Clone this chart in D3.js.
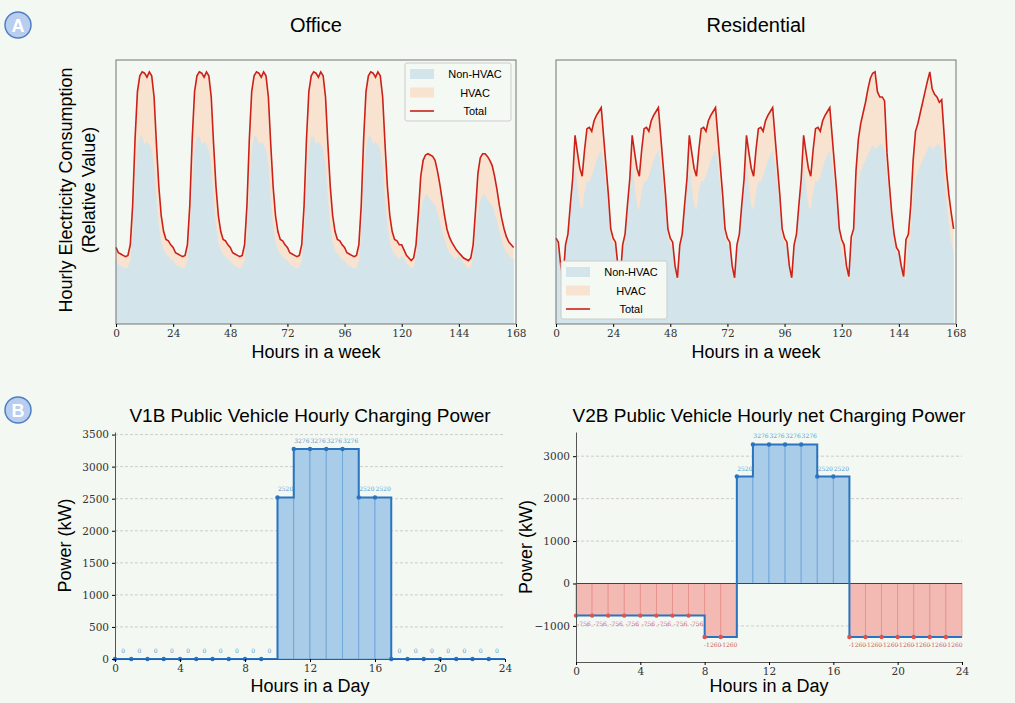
<!DOCTYPE html>
<html><head><meta charset="utf-8">
<script src="https://cdn.jsdelivr.net/npm/d3@7"></script>
<style>
body{margin:0;background:#f3f8f2;}
svg{font-family:"Liberation Sans",Arial,sans-serif;}
.tick text{font-family:"DejaVu Serif",serif;font-size:10.5px;fill:#333;}
</style></head><body>
<svg id="c" width="1015" height="703"></svg>
<script>
// ---- A: weekly profiles (relative, 0..100 of frame) ----
const officeWeekdayTotal = [29,27,26.5,26,25.5,26,30,45,70,88,94,95.5,95,93.5,95.5,94,86,68,52,41,35,32,31.5,30]
const officeWeekdayBase  = [24,22.5,22,21.5,21,21.5,24,34,52,66,71,71,68,69,68,66,60,47,37,31,28,26.5,25.5,24.5]
const officeSatTotal = [30,28,26,25,24,25,30,42,56,62,64,64.5,64,63.5,62,58,53,47,41,36,33,31,29.5,28]
const officeSunTotal = [27,26,25,24.5,24,25,30,43,57,63,64.5,64.5,63.5,62,60,56,51,45,40,36,33,31,30,29]
const officeWeekendBase = [26,24.5,23,22,21,21.5,25,33,42,47,49,49,47,46,45,42,39,35,32,29,27,26,25,24.5]

const resWeekdayTotal = [32.5,31,22,17.5,30,34,45,55,71.5,65,59,56,66,74,74.5,73,77,79,80.5,82,71,60,49,36]
const resWeekdayBase  = [30,29,20,15.5,28,32,42,50,60,52,45,43,50,54,54,56,59,62,64,66,60,52,44,33]
const resSatTotal = [32,30,22,18,33,36,58,70,76,80,84,89,93,95,95.5,88,86,86,84.5,65,53,42,34,29]
const resSunTotal = [27.5,22,18,32,34,45,62,73,76,80,84,88,92,95.5,89,87,86,84,85,72,58,49,42,36]
const resWeekendBase = [27,24,19,16,30,33,48,54,58,60,62,64,66,68,66,67,68,68,66,56,46,38,31,27]

const weekTicks = [0,24,48,72,96,120,144,168]

// ---- B: hourly charging power (kW) ----
const hours = d3.range(24)
const v1b = [0,0,0,0,0,0,0,0,0,0,2520,3276,3276,3276,3276,2520,2520,0,0,0,0,0,0,0]
const v2b = [-756,-756,-756,-756,-756,-756,-756,-756,-1260,-1260,2520,3276,3276,3276,3276,2520,2520,-1260,-1260,-1260,-1260,-1260,-1260,-1260]
const dayTicks = [0,4,8,12,16,20,24]

const COL = {base:"#d3e4ea", hvac:"#f7e3cf", total:"#cc2019", blue:"#2a74bf", blueFill:"#a9cce9", red:"#e0524b", redFill:"#f3b9b3"}

const svg = d3.select("#c")

function week(arr5, sat, sun) { return [].concat(arr5,arr5,arr5,arr5,arr5,sat,sun) }

function weekPanel(x0, title, total, base, legendPos) {
  const W = 400, top = 60, bottom = 324
  const x = d3.scaleLinear().domain([0,168]).range([x0, x0+W])
  const y = d3.scaleLinear().domain([0,100]).range([bottom, top])
  const g = svg.append("g")
  const data = total.map((t,i) => ({h:i, t:t, b:base[i]}))
  g.append("path").datum(data).attr("fill", COL.hvac)
    .attr("d", d3.area().x(d=>x(d.h)).y0(y(0)).y1(d=>y(d.t)))
  g.append("path").datum(data).attr("fill", COL.base)
    .attr("d", d3.area().x(d=>x(d.h)).y0(y(0)).y1(d=>y(d.b)))
  g.append("path").datum(data).attr("fill","none").attr("stroke",COL.total).attr("stroke-width",1.6)
    .attr("d", d3.line().x(d=>x(d.h)).y(d=>y(d.t)))
  g.append("rect").attr("x",x0).attr("y",top).attr("width",W).attr("height",bottom-top)
    .attr("fill","none").attr("stroke","#666").attr("stroke-width",0.9)
  g.append("g").attr("transform",`translate(0,${bottom})`)
    .call(d3.axisBottom(x).tickValues(weekTicks).tickSize(3).tickSizeOuter(0))
    .call(a=>a.select(".domain").remove())
  g.append("text").attr("x",x0+W/2).attr("y",32).attr("text-anchor","middle").attr("font-size",20).text(title)
  g.append("text").attr("x",x0+W/2).attr("y",358).attr("text-anchor","middle").attr("font-size",18).text("Hours in a week")
  // legend
  const [lx, ly] = legendPos
  const lg = g.append("g").attr("transform",`translate(${lx},${ly})`)
  lg.append("rect").attr("width",106).attr("height",58).attr("fill","#f5f9f4").attr("stroke","#ccc").attr("rx",2)
  const items = [["Non-HVAC",COL.base,"a"],["HVAC",COL.hvac,"a"],["Total",COL.total,"l"]]
  items.forEach((it,i) => {
    const yy = 11 + i*18.5
    if (it[2]==="a") lg.append("rect").attr("x",5).attr("y",yy-5).attr("width",24).attr("height",10).attr("fill",it[1])
    else lg.append("line").attr("x1",5).attr("x2",29).attr("y1",yy).attr("y2",yy).attr("stroke",it[1]).attr("stroke-width",1.6)
    lg.append("text").attr("x",70).attr("y",yy+4).attr("text-anchor","middle").attr("font-size",11).text(it[0])
  })
}

weekPanel(116, "Office",
  week(officeWeekdayTotal, officeSatTotal, officeSunTotal),
  week(officeWeekdayBase, officeWeekendBase, officeWeekendBase), [405, 63])
weekPanel(556, "Residential",
  week(resWeekdayTotal, resSatTotal, resSunTotal),
  week(resWeekdayBase, resWeekendBase, resWeekendBase), [561, 261])

svg.append("text").attr("transform","translate(72,190) rotate(-90)").attr("text-anchor","middle").attr("font-size",18)
  .text("Hourly Electricity Consumption")
svg.append("text").attr("transform","translate(95,190) rotate(-90)").attr("text-anchor","middle").attr("font-size",18)
  .text("(Relative Value)")

function badge(cx, cy, letter) {
  svg.append("circle").attr("cx",cx).attr("cy",cy).attr("r",13).attr("fill","#b9cdef").attr("stroke","#4f7fc4").attr("stroke-width",1.5)
  svg.append("text").attr("x",cx).attr("y",cy+6.5).attr("text-anchor","middle").attr("font-size",18).attr("font-weight","bold").attr("fill","#fff").text(letter)
}
badge(18, 25, "A")
badge(18, 410, "B")

function dayPanel(x0, x1, yTop, yBot, domain, yTicks, vals, title, zeroLine) {
  const x = d3.scaleLinear().domain([0,24]).range([x0,x1])
  const y = d3.scaleLinear().domain(domain).range([yBot,yTop])
  const g = svg.append("g")
  // grid
  g.selectAll(".grid").data(yTicks).join("line")
    .attr("x1",x0).attr("x2",x1).attr("y1",d=>y(d)).attr("y2",d=>y(d))
    .attr("stroke","#bbb").attr("stroke-width",0.7).attr("stroke-dasharray","3,2")
  // bars
  g.selectAll(".bar").data(hours).join("rect")
    .attr("x",h=>x(h)).attr("width",x(1)-x(0))
    .attr("y",h=>y(Math.max(0,vals[h]))).attr("height",h=>Math.abs(y(vals[h])-y(0)))
    .attr("fill",h=>vals[h]>=0?COL.blueFill:COL.redFill)
    .attr("stroke",h=>vals[h]>=0?"#6aa2d6":"#e89089").attr("stroke-width",0.8)
  if (zeroLine) g.append("line").attr("x1",x0).attr("x2",x1).attr("y1",y(0)).attr("y2",y(0)).attr("stroke","#444").attr("stroke-width",1.2)
  const stepData = hours.map(h=>({h:h,v:vals[h]})).concat([{h:24,v:vals[23]}])
  g.append("path").datum(stepData).attr("fill","none").attr("stroke",COL.blue).attr("stroke-width",2)
    .attr("d", d3.line().curve(d3.curveStepAfter).x(d=>x(d.h)).y(d=>y(d.v)))
  g.selectAll(".dot").data(hours).join("circle")
    .attr("cx",h=>x(h)).attr("cy",h=>y(vals[h])).attr("r",2.2)
    .attr("fill",h=>vals[h]<0?COL.red:COL.blue)
  g.selectAll(".lab").data(hours).join("text")
    .attr("x",h=>x(h+0.5)).attr("y",h=>vals[h]<0?y(vals[h])+10:y(vals[h])-6)
    .attr("text-anchor","middle").attr("font-family","DejaVu Serif,serif").attr("font-size",6)
    .attr("fill",h=>vals[h]<0?"#d0605a":"#5b9bcf").text(h=>vals[h])
  g.append("g").attr("transform",`translate(${x0},0)`)
    .call(d3.axisLeft(y).tickValues(yTicks).tickFormat(d3.format("d")).tickSize(3).tickSizeOuter(0))
    .call(a=>a.select(".domain").attr("stroke","#555"))
  g.append("g").attr("transform",`translate(0,${yBot})`)
    .call(d3.axisBottom(x).tickValues(dayTicks).tickSize(3).tickSizeOuter(0))
    .call(a=>a.select(".domain").attr("stroke","#555"))
  g.append("text").attr("x",(x0+x1)/2).attr("y",422).attr("text-anchor","middle").attr("font-size",19).text(title)
  g.append("text").attr("x",(x0+x1)/2).attr("y",692).attr("text-anchor","middle").attr("font-size",18).text("Hours in a Day")
  g.append("text").attr("transform",`translate(${x0-44},${(yTop+yBot)/2}) rotate(-90)`).attr("text-anchor","middle").attr("font-size",18).text("Power (kW)")
}

dayPanel(115, 505, 432, 659, [0,3540], [0,500,1000,1500,2000,2500,3000,3500], v1b,
  "V1B Public Vehicle Hourly Charging Power", false)
dayPanel(576, 962, 432, 662, [-1850,3570], [-1000,0,1000,2000,3000], v2b,
  "V2B Public Vehicle Hourly net Charging Power", true)
</script></body></html>
